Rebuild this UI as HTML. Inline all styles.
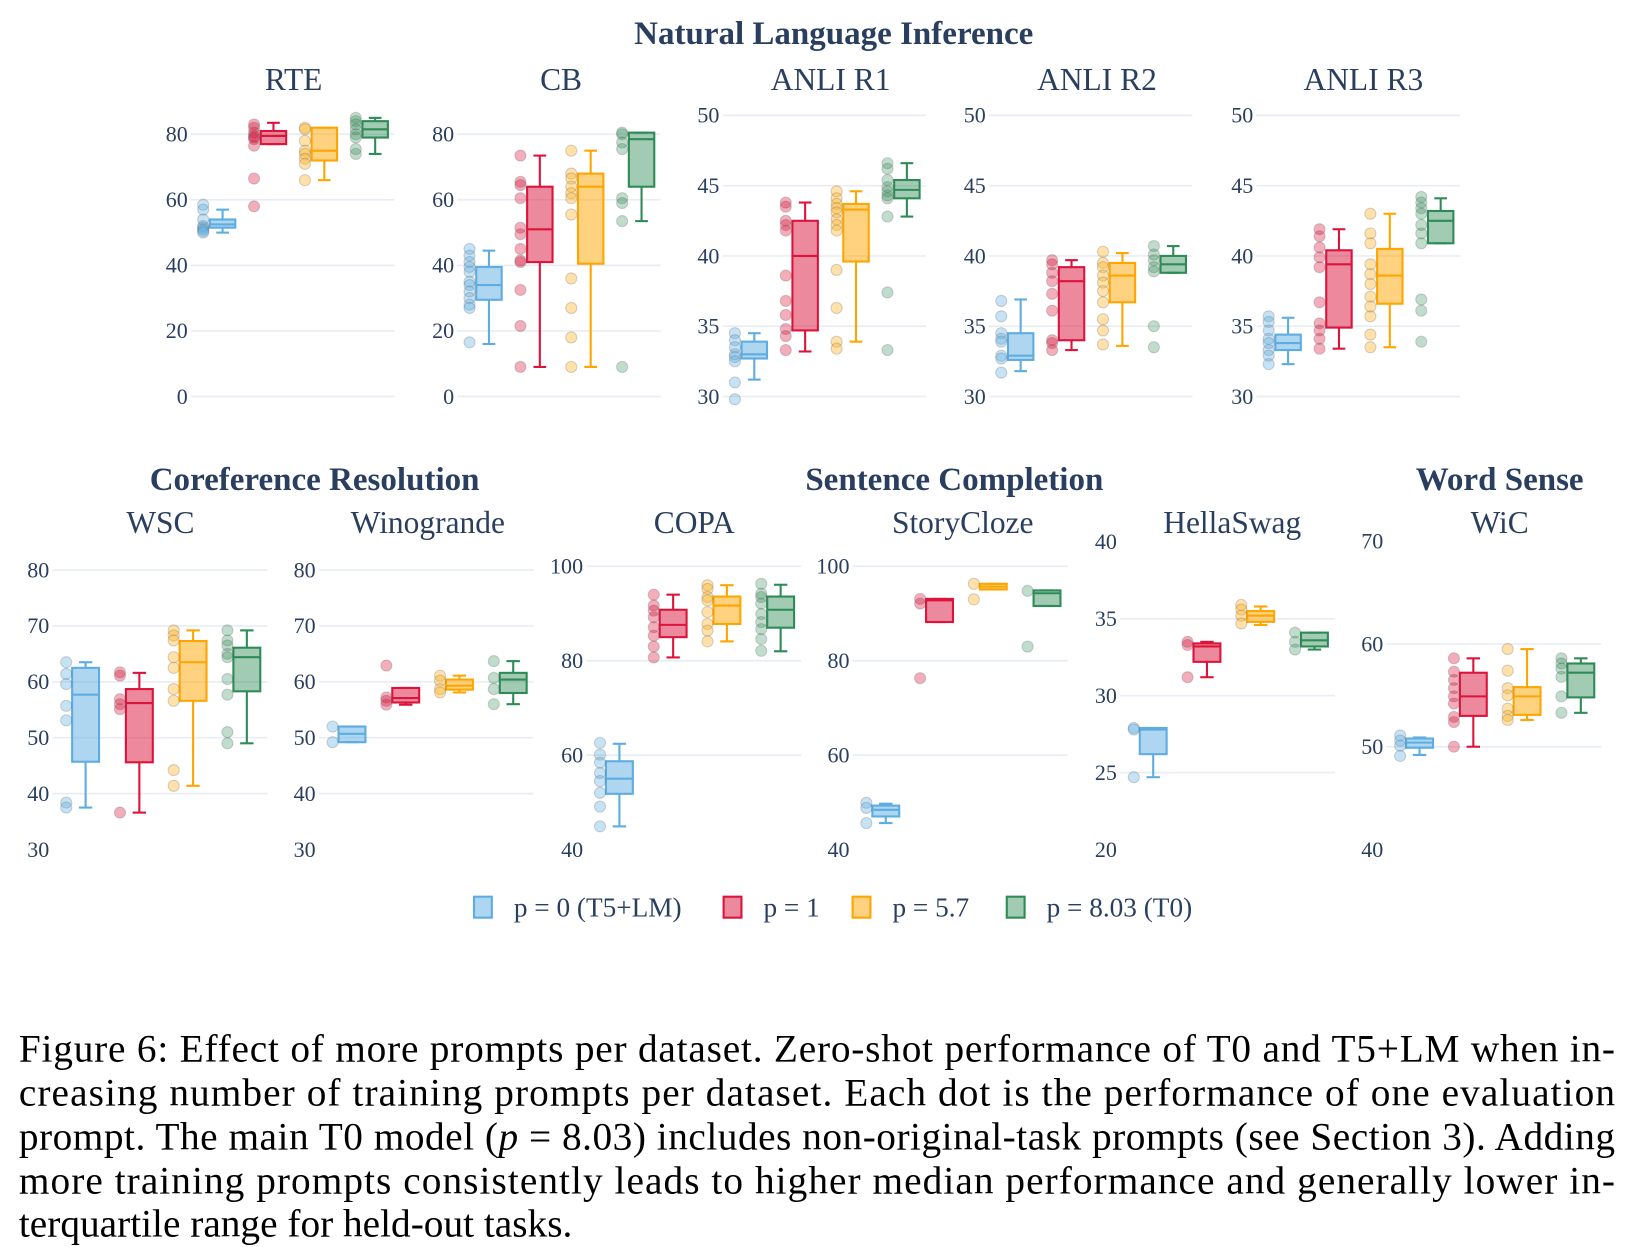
<!DOCTYPE html>
<html><head><meta charset="utf-8">
<style>
html,body{margin:0;padding:0;background:#fff;}
svg{display:block;}
</style></head>
<body>
<svg id="fig" xmlns="http://www.w3.org/2000/svg" width="1636" height="1247" viewBox="0 0 1560 1189" font-family="'Liberation Serif', serif">
<g id="plots"></g>
<g font-size="26" fill="#2a3f5f">
  <g><rect x="452" y="855" width="17" height="20" fill="rgba(93,173,226,0.5)" stroke="#5DADE2" stroke-width="2"/><text x="490" y="874">p = 0 (T5+LM)</text></g>
  <g><rect x="690" y="855" width="17" height="20" fill="rgba(220,20,60,0.5)" stroke="#DC143C" stroke-width="2"/><text x="728" y="874">p = 1</text></g>
  <g><rect x="813" y="855" width="17" height="20" fill="rgba(255,165,0,0.5)" stroke="#FFA500" stroke-width="2"/><text x="851" y="874">p = 5.7</text></g>
  <g><rect x="960" y="855" width="17" height="20" fill="rgba(46,139,87,0.45)" stroke="#2E8B57" stroke-width="2"/><text x="998" y="874">p = 8.03 (T0)</text></g>
</g>
<g font-size="37.5" fill="#000">
  <text x="18" y="1012" textLength="1522" lengthAdjust="spacing">Figure 6: Effect of more prompts per dataset. Zero-shot performance of T0 and T5+LM when in-</text>
  <text x="18" y="1054" textLength="1522" lengthAdjust="spacing">creasing number of training prompts per dataset. Each dot is the performance of one evaluation</text>
  <text x="18" y="1096" textLength="1522" lengthAdjust="spacing">prompt. The main T0 model (<tspan font-style="italic">p</tspan> = 8.03) includes non-original-task prompts (see Section 3). Adding</text>
  <text x="18" y="1138" textLength="1522" lengthAdjust="spacing">more training prompts consistently leads to higher median performance and generally lower in-</text>
  <text x="18" y="1179">terquartile range for held-out tasks.</text>
</g>
</svg>
<script>
// ---- data: per dataset, dots per series and box stats [lo,q1,med,q3,hi] ----
const seriesNames = ["p = 0 (T5+LM)","p = 1","p = 5.7","p = 8.03 (T0)"];
const datasets = ["RTE","CB","ANLI R1","ANLI R2","ANLI R3","WSC","Winogrande","COPA","StoryCloze","HellaSwag","WiC"];

const rteDots = [[58.5,57,54,52,51.5,51,50.5,50],[83,82,80.5,79.5,79,78.5,76.5,66.5,58],[82,81.5,78,75,74,72.5,71,66],[85,84,83,81.5,80,79,75.5,74]];
const rteBox = [[50,51.5,52.5,54,57],[77,77,79.5,81,83.5],[66,72,75,82,82],[74,79,81.5,84,85]];
const cbDots = [[45,43,41,39.5,38,35,34,32,30,28,27,16.5],[73.5,65.5,64.5,60.5,51.5,49.5,45,41.5,41,32.5,21.5,9],[75,68,66.5,64,62,60.5,55.5,36,27,18,9],[80.5,80,77.5,75.5,60.5,59,53.5,9]];
const cbBox = [[16,29.5,34,39.5,44.5],[9,41,51,64,73.5],[9,40.5,64,68,75],[53.5,64,78.5,80.5,80.5]];
const r1Dots = [[34.5,34,33.5,33,32.8,32.5,31,29.8],[43.8,43.5,42.5,42.2,41.8,38.6,36.8,35.8,34.8,34.3,33.3],[44.6,44.1,43.7,43.4,43.1,42.6,42.2,41.8,39,36.3,33.9,33.4],[46.6,46.2,45.4,44.9,44.6,44.3,44.1,42.8,37.4,33.3]];
const r1Box = [[31.2,32.7,33,33.9,34.5],[33.2,34.7,40,42.5,43.8],[33.9,39.6,43.3,43.7,44.6],[42.8,44.1,44.7,45.4,46.6]];
const r2Dots = [[36.8,35.7,34.5,34.1,33.9,32.9,32.7,31.7],[39.7,39.4,38.8,38.2,37.3,36.1,34,33.8,33.3],[40.3,39.5,39.2,38.6,38.1,37.5,36.7,35.5,34.7,33.7],[40.7,40.1,39.7,39.2,38.9,35,33.5]];
const r2Box = [[31.8,32.6,32.9,34.5,36.9],[33.3,34,38.2,39.2,39.7],[33.6,36.7,38.6,39.5,40.2],[38.8,38.8,39.4,40,40.7]];
const r3Dots = [[35.7,35.3,34.7,34.1,33.8,33.3,32.9,32.3],[41.9,41.4,40.6,39.9,39.2,36.7,35.2,34.7,34.1,33.4],[43,41.6,40.9,39.4,38.7,38,37.1,36.4,35.7,34.4,33.5],[44.2,43.8,43.4,43,42.2,41.6,40.9,36.9,36.1,33.9]];
const r3Box = [[32.3,33.3,33.8,34.4,35.6],[33.4,34.9,39.4,40.4,41.9],[33.5,36.6,38.6,40.5,43],[40.9,40.9,42.5,43.2,44.1]];
const wscDots = [[63.5,61.4,59.6,55.7,53.1,38.4,37.5],[61.7,61.1,56.9,56,55.1,36.6],[69.2,68.3,67.4,64.4,62.5,58.7,56.6,44.2,41.4],[69.2,67.4,66.5,65,64.4,60.5,57.7,51,49]];
const wscBox = [[37.5,45.7,57.7,62.5,63.5],[36.6,45.6,56.2,58.7,61.6],[41.4,56.6,63.5,67.3,69.2],[49,58.3,64.4,66.1,69.2]];
const winoDots = [[52,49.2],[62.9,57.2,56.6,55.9],[61.1,60.2,58.7,58.1],[63.7,60.7,58.7,56]];
const winoBox = [[49.2,49.2,50.7,52,52],[55.9,56.3,57.1,58.9,58.9],[58.1,58.6,59.3,60.4,61.1],[56,58,60.4,61.6,63.7]];
const copaDots = [[62.6,60.1,58.4,56.2,54.5,52,49.1,44.9],[94,91.7,90.6,89.2,87.1,85.3,83,80.7],[96,95.2,93.5,92.8,90.3,87.8,86.4,84.1],[96.3,94.2,93.5,92.1,89.9,88.2,86.7,84.6,82.1]];
const copaBox = [[44.9,51.8,55,58.7,62.4],[80.7,85,87.6,90.8,94],[84.1,87.8,91.7,93.6,96],[82,87,90.8,93.6,96.1]];
const storyDots = [[49.9,48.8,45.6],[93.1,92.1,76.3],[96.3,93],[94.8,83]];
const storyBox = [[45.6,47,48.4,49.3,49.7],[88.2,88.2,92.8,93.1,93.1],[95.1,95.1,95.7,96.3,96.3],[91.6,91.6,94.3,94.9,94.9]];
const hellaDots = [[27.9,27.8,24.7],[33.5,33.3,31.2],[35.9,35.6,35.2,34.7],[34.1,33.5,33]];
const hellaBox = [[24.7,26.2,27.8,27.9,27.9],[31.2,32.2,33.2,33.4,33.5],[34.6,34.8,35.2,35.5,35.8],[33,33.2,33.6,34.1,34.1]];
const wicDots = [[51.1,50.6,50.1,49.1],[58.6,57.3,56.5,55.7,54.9,54.2,52.9,52.4,50],[59.5,57.4,55.7,55,53.7,53,52.6],[58.6,58.1,57.6,56.8,54.9,53.3]];
const wicBox = [[49.2,49.9,50.4,50.8,50.9],[50,53,54.9,57.2,58.6],[52.6,53.1,54.9,55.8,59.5],[53.3,54.8,57.2,58.1,58.6]];

const ticksRTE = [0,20,40,60,80], ticksANLI = [30,35,40,45,50], ticksWSC = [30,40,50,60,70,80];
const ticksCOPA = [40,60,80,100], ticksHella = [20,25,30,35,40], ticksWiC = [40,50,60,70];

const allDots = [rteDots,cbDots,r1Dots,r2Dots,r3Dots,wscDots,winoDots,copaDots,storyDots,hellaDots,wicDots];
const allBoxes = [rteBox,cbBox,r1Box,r2Box,r3Box,wscBox,winoBox,copaBox,storyBox,hellaBox,wicBox];
const allTicks = [ticksRTE,ticksRTE,ticksANLI,ticksANLI,ticksANLI,ticksWSC,ticksWSC,ticksCOPA,ticksCOPA,ticksHella,ticksWiC];

// ---- layout (not data) ----
const layout = [
 {x:182,w:194,v1:80,p1:128,v0:0,p0:378,grid:[0,20,40,60,80],tx:280},
 {x:436,w:194,v1:80,p1:128,v0:0,p0:378,grid:[0,20,40,60,80],tx:535},
 {x:689,w:194,v1:50,p1:110,v0:30,p0:378,grid:[30,35,40,45,50],tx:792},
 {x:943,w:194,v1:50,p1:110,v0:30,p0:378,grid:[30,35,40,45,50],tx:1046},
 {x:1198,w:194,v1:50,p1:110,v0:30,p0:378,grid:[30,35,40,45,50],tx:1300},
 {x:50,w:205,v1:80,p1:543.5,v0:30,p0:810,grid:[40,50,60,70,80],tx:153},
 {x:304,w:205,v1:80,p1:543.5,v0:30,p0:810,grid:[40,50,60,70,80],tx:408},
 {x:559,w:205,v1:100,p1:540,v0:40,p0:810,grid:[60,80,100],tx:662},
 {x:813,w:205,v1:100,p1:540,v0:40,p0:810,grid:[60,80,100],tx:918},
 {x:1068,w:205,v1:35,p1:590,v0:20,p0:810,grid:[25,30,35],tx:1175},
 {x:1322,w:205,v1:60,p1:614,v0:40,p0:810,grid:[50,60],tx:1430}
];
const stroke = ["#5DADE2","#DC143C","#FFA500","#2E8B57"];
const fill = ["rgba(93,173,226,0.5)","rgba(220,20,60,0.5)","rgba(255,165,0,0.5)","rgba(46,139,87,0.45)"];
const dotFill = ["rgba(93,173,226,0.35)","rgba(220,20,60,0.35)","rgba(255,180,40,0.4)","rgba(46,139,87,0.3)"];
const groupTitles = [["Natural Language Inference",795,42],["Coreference Resolution",300,467],["Sentence Completion",910,467],["Word Sense",1430,467]];

const NS = "http://www.w3.org/2000/svg";
const root = document.getElementById("plots");
function mk(tag, attrs, parent){
  const e = document.createElementNS(NS, tag);
  for (const k in attrs) e.setAttribute(k, attrs[k]);
  (parent||root).appendChild(e);
  return e;
}
groupTitles.forEach(g=>{
  const t = mk("text",{x:g[1],y:g[2],"text-anchor":"middle","font-size":31.5,"font-weight":"bold",fill:"#2a3f5f"});
  
  
  t.textContent = g[0];
});
datasets.forEach((name, di)=>{
  const L = layout[di];
  const y = v => L.p0 + (v - L.v0) * (L.p1 - L.p0) / (L.v1 - L.v0);
  const g = mk("g",{});
  
  
  const tt = mk("text",{x:L.tx,y:(di<5?86:508),"text-anchor":"middle","font-size":30,fill:"#2a3f5f"},g);
  
  
  tt.textContent = name;
  L.grid.forEach(v=>{
    const ln = mk("line",{x1:L.x,x2:L.x+L.w,y1:y(v),y2:y(v),stroke:"#e8edf4","stroke-width":1.6},g);
    
    
  });
  allTicks[di].forEach(v=>{
    const t = mk("text",{x:L.x-3,y:y(v)+7,"text-anchor":"end","font-size":21,fill:"#2a3f5f"},g);
    
    
    t.textContent = v;
  });
  const gw = L.w/4;
  for (let s=0;s<4;s++){
    const c = L.x + (s+0.5)*gw;
    const dx = c - 12.5, bx = c + 6, bw = gw*0.5;
    const b = allBoxes[di][s];
    const bg = mk("g",{stroke:stroke[s],"stroke-width":2},g);
    
    
    mk("line",{x1:bx,x2:bx,y1:y(b[0]),y2:y(b[1])},bg);
    mk("line",{x1:bx,x2:bx,y1:y(b[3]),y2:y(b[4])},bg);
    mk("line",{x1:bx-bw/4,x2:bx+bw/4,y1:y(b[0]),y2:y(b[0])},bg);
    mk("line",{x1:bx-bw/4,x2:bx+bw/4,y1:y(b[4]),y2:y(b[4])},bg);
    mk("rect",{x:bx-bw/2,y:y(b[3]),width:bw,height:Math.max(1,y(b[1])-y(b[3])),fill:fill[s]},bg);
    mk("line",{x1:bx-bw/2,x2:bx+bw/2,y1:y(b[2]),y2:y(b[2])},bg);
    allDots[di][s].forEach(v=>{
      const d = mk("circle",{cx:dx,cy:y(v),r:5.3,fill:dotFill[s],stroke:"rgba(90,90,90,0.25)","stroke-width":1},g);
      
      
    });
  }
});
</script>
</body></html>
